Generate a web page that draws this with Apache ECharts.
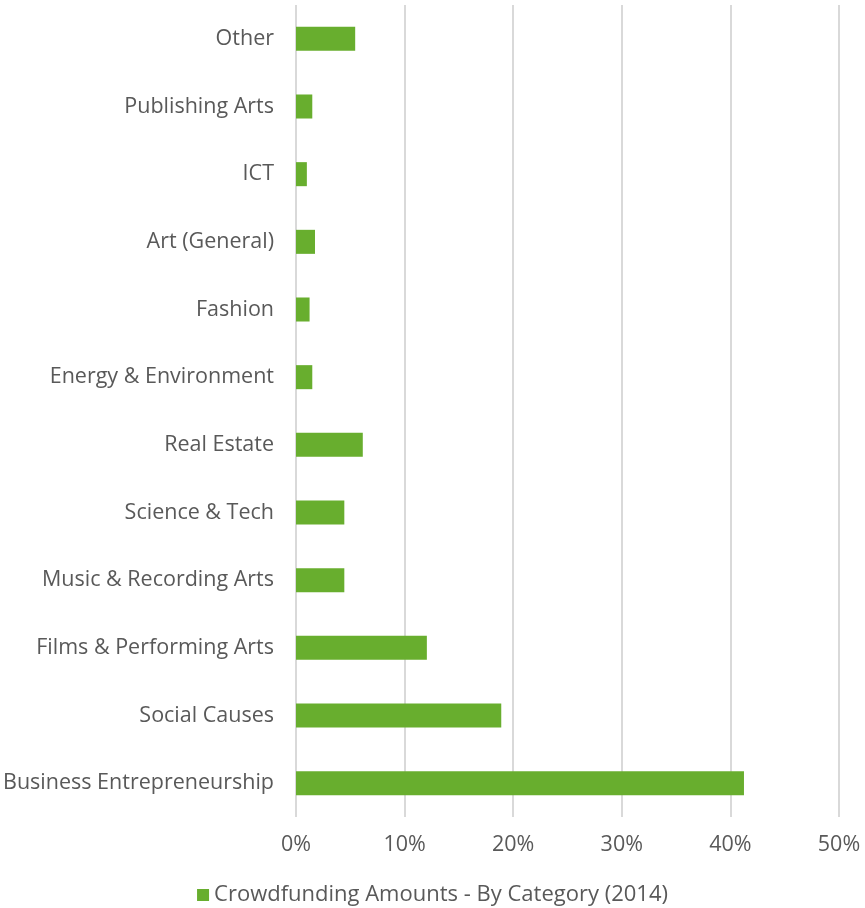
<!DOCTYPE html>
<html>
<head>
<meta charset="utf-8">
<style>
  html, body { margin: 0; padding: 0; background: #ffffff; }
  #chart { width: 865px; height: 908px; }
</style>
<script src="https://cdn.jsdelivr.net/npm/echarts@6/dist/echarts.min.js"></script>
</head>
<body>
<div id="chart"></div>
<script>
// Categories listed bottom to top (category axis starts at the bottom)
const categories = [
  'Business Entrepreneurship',
  'Social Causes',
  'Films & Performing Arts',
  'Music & Recording Arts',
  'Science & Tech',
  'Real Estate',
  'Energy & Environment',
  'Fashion',
  'Art (General)',
  'ICT',
  'Publishing Arts',
  'Other'
];
// Share of crowdfunding amounts, in percent
const shares = [41.25, 18.9, 12.05, 4.45, 4.45, 6.15, 1.5, 1.25, 1.75, 1.0, 1.5, 5.45];
const seriesName = 'Crowdfunding Amounts - By Category (2014)';
const tickValues = [0, 10, 20, 30, 40, 50];

const textColor = '#595959';
const fontFamily = '"Open Sans", "Noto Sans", sans-serif';
const fontSize = 21.5;

const chart = echarts.init(document.getElementById('chart'), null, { renderer: 'canvas' });
chart.setOption({
  animation: false,
  backgroundColor: '#ffffff',
  grid: { left: 296, right: 26, top: 5, bottom: 91, containLabel: false },
  legend: {
    data: [seriesName],
    bottom: -3,
    left: 'center',
    itemWidth: 12,
    itemHeight: 12,
    itemGap: 5,
    icon: 'rect',
    textStyle: { color: textColor, fontSize: 22, fontFamily: fontFamily }
  },
  xAxis: {
    type: 'value',
    min: tickValues[0],
    max: tickValues[tickValues.length - 1],
    interval: 10,
    axisLine: { show: false },
    axisTick: { show: false },
    splitLine: { show: true, lineStyle: { color: '#d9d9d9', width: 2 } },
    axisLabel: {
      color: textColor,
      fontSize: fontSize,
      fontFamily: fontFamily,
      margin: 17,
      formatter: v => v + '%'
    }
  },
  yAxis: {
    type: 'category',
    data: categories,
    axisLine: { show: false },
    axisTick: { show: false },
    axisLabel: {
      color: textColor,
      fontSize: fontSize,
      fontFamily: fontFamily,
      margin: 22
    }
  },
  series: [{
    name: seriesName,
    type: 'bar',
    data: shares,
    barWidth: '35.5%',
    itemStyle: { color: '#68ae2e' }
  }]
});
</script>
</body>
</html>
